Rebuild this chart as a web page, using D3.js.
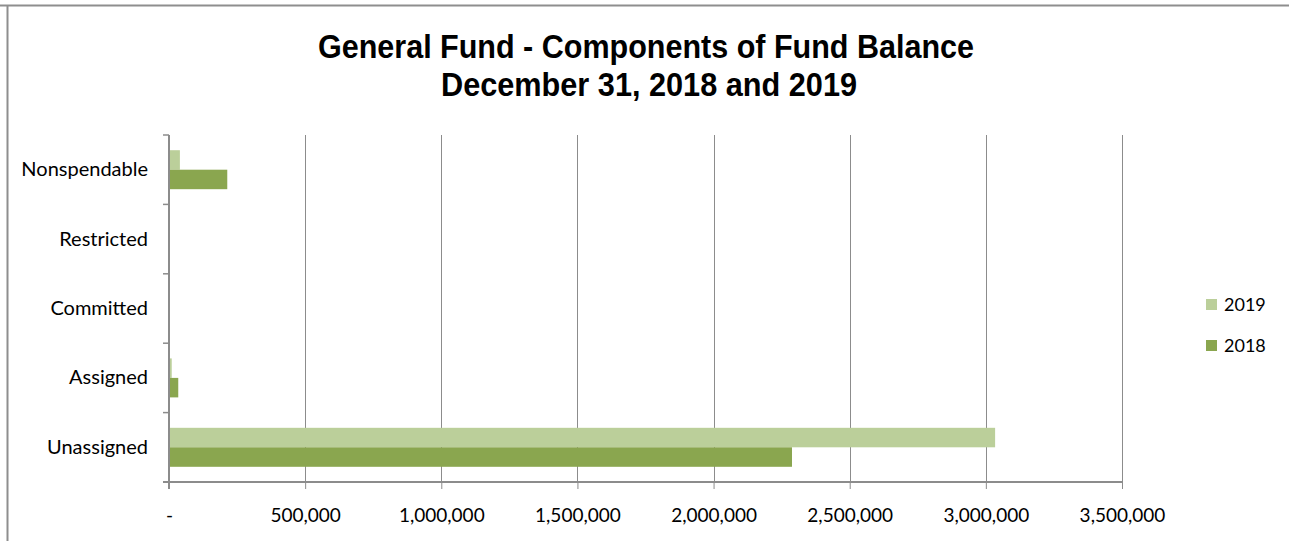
<!DOCTYPE html>
<html>
<head>
<meta charset="utf-8">
<script src="https://cdn.jsdelivr.net/npm/d3@7"></script>
<style>
  html, body { margin: 0; padding: 0; background: #fff; }
  svg { display: block; }
</style>
</head>
<body>
<svg id="chart" width="1289" height="541"></svg>
<script>
// ---- data ----
const categories = ["Nonspendable", "Restricted", "Committed", "Assigned", "Unassigned"];
const seriesNames = ["2019", "2018"];
const values2019 = [40000, 0, 0, 10000, 3034000];
const values2018 = [214000, 0, 0, 34000, 2288000];
const tickValues = [0, 500000, 1000000, 1500000, 2000000, 2500000, 3000000, 3500000];
const titleLines = ["General Fund - Components of Fund Balance", "December 31, 2018 and 2019"];
const colors = { "2019": "#bbcf9a", "2018": "#8aa64f" };

const seriesValues = { "2019": values2019, "2018": values2018 };

const svg = d3.select("#chart");
const W = 1289, H = 541;
const margin = { left: 169, right: 167, top: 135, bottom: 59 };

// frame
svg.append("line").attr("x1", 0).attr("x2", W).attr("y1", 5.5).attr("y2", 5.5)
  .attr("stroke", "#8e8e8e").attr("stroke-width", 2);
svg.append("line").attr("x1", 7.5).attr("x2", 7.5).attr("y1", 5).attr("y2", H)
  .attr("stroke", "#8e8e8e").attr("stroke-width", 2);

// title
const titleG = svg.append("g").attr("font-family", "'Liberation Sans', Arial, sans-serif")
  .attr("font-weight", "bold").attr("font-size", 33).attr("fill", "#000");
titleG.append("text").attr("x", 318).attr("y", 58)
  .attr("textLength", 656).attr("lengthAdjust", "spacingAndGlyphs").text(titleLines[0]);
titleG.append("text").attr("x", 441).attr("y", 96)
  .attr("textLength", 416).attr("lengthAdjust", "spacingAndGlyphs").text(titleLines[1]);

// scales
const x = d3.scaleLinear().domain([0, 3500000]).range([margin.left, W - margin.right]);
const y = d3.scaleBand().domain(categories).range([margin.top, H - margin.bottom]).padding(0);
const y1 = d3.scaleBand().domain(seriesNames).range([0, y.bandwidth()]).paddingInner(0).paddingOuter(0.78);

// gridlines
svg.append("g").selectAll("line").data(tickValues.filter(d => d > 0)).join("line")
  .attr("x1", d => Math.round(x(d)) + 0.5).attr("x2", d => Math.round(x(d)) + 0.5)
  .attr("y1", margin.top).attr("y2", H - margin.bottom)
  .attr("stroke", "#8c8c8c").attr("stroke-width", 1);

// bars
const gBars = svg.append("g");
seriesNames.forEach(s => {
  gBars.append("g").selectAll("rect").data(categories.map((c, i) => ({ c, v: seriesValues[s][i] })))
    .join("rect")
    .attr("x", x(0))
    .attr("y", d => y(d.c) + y1(s))
    .attr("width", d => x(d.v) - x(0))
    .attr("height", y1.bandwidth())
    .attr("fill", colors[s]);
});

// x axis
const fmt = d3.format(",");
const xAxis = d3.axisBottom(x).tickValues(tickValues).tickSize(7).tickPadding(20)
  .tickFormat(d => d === 0 ? "-" : fmt(d));
const gx = svg.append("g").attr("transform", `translate(0,${H - margin.bottom})`).call(xAxis);
gx.select(".domain").attr("stroke", "#8c8c8c").attr("stroke-width", 2)
  .attr("d", `M${margin.left - 6},0H${W - margin.right}`);
gx.selectAll(".tick line").attr("stroke", "#8c8c8c");
gx.selectAll(".tick text").attr("font-family", "Lato, 'Open Sans', sans-serif")
  .attr("font-size", 19).attr("fill", "#000");

// y axis
const yAxis = d3.axisLeft(y).tickSize(0).tickPadding(21);
const gy = svg.append("g").attr("transform", `translate(${margin.left},0)`).call(yAxis);
gy.select(".domain").attr("stroke", "#8c8c8c").attr("stroke-width", 2)
  .attr("d", `M0,${margin.top}V${H - margin.bottom + 7}`);
gy.selectAll(".tick text").attr("font-family", "Lato, 'Open Sans', sans-serif")
  .attr("font-size", 20).attr("fill", "#000");
// category boundary ticks
const bounds = categories.map(c => y(c)).concat([H - margin.bottom]);
gy.append("g").selectAll("line").data(bounds).join("line")
  .attr("x1", -6).attr("x2", 0).attr("y1", d => d).attr("y2", d => d)
  .attr("stroke", "#8c8c8c").attr("stroke-width", 1.5);

// legend
const legend = svg.append("g").attr("font-family", "Lato, 'Open Sans', sans-serif").attr("font-size", 18);
seriesNames.forEach((s, i) => {
  const ly = 299 + i * 41;
  legend.append("rect").attr("x", 1206).attr("y", ly).attr("width", 11).attr("height", 11).attr("fill", colors[s]);
  legend.append("text").attr("x", 1224).attr("y", ly + 12).attr("fill", "#000").text(s);
});
</script>
</body>
</html>
